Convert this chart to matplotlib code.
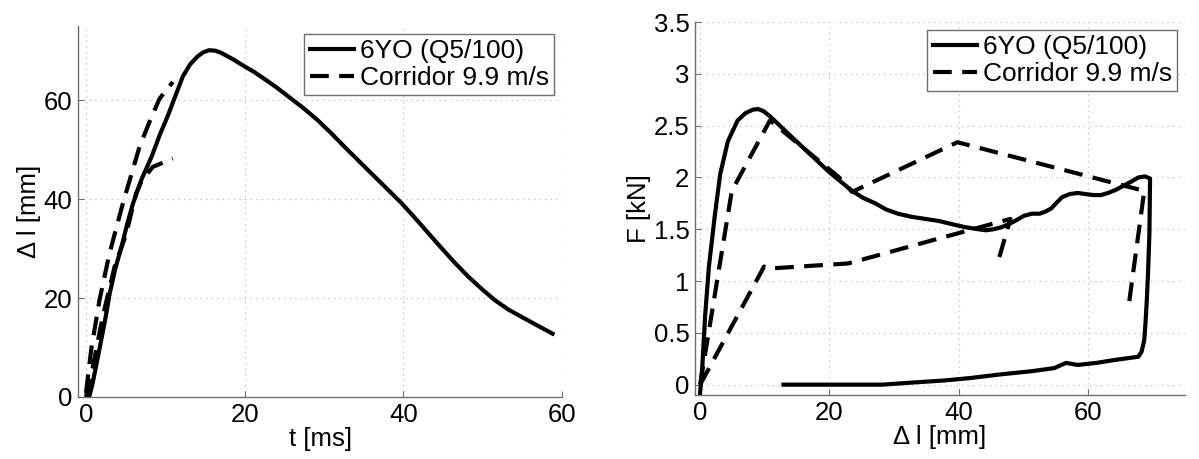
import numpy as np
import matplotlib
matplotlib.use("Agg")
import matplotlib.pyplot as plt
from matplotlib.ticker import FormatStrFormatter

plt.rcParams["font.family"] = ["Liberation Sans", "DejaVu Sans"]

""" left: elongation over time """
t_sim = [0.4, 0.8, 1.3, 1.8, 2.4, 3.0, 3.7, 4.5, 5.2, 5.9, 7.0, 8.3, 9.3, 10.3, 11.3,
         12.2, 13.1, 14.1, 14.8, 15.5, 16.3, 17.0, 18.5, 19.9, 21.1, 22.3, 24.0, 25.7,
         27.4, 29.1, 30.8, 32.5, 34.2, 35.9, 37.8, 39.7, 41.4, 43.1, 44.8, 46.5, 48.2,
         49.9, 51.5, 53.2, 55.0, 56.6, 58.8]
dl_sim = [0.0, 2.5, 6.5, 10.5, 15.5, 21.0, 26.0, 30.5, 35.0, 39.0, 44.0, 48.7, 53.0,
          56.8, 61.0, 64.8, 67.2, 68.9, 69.7, 70.1, 70.0, 69.6, 68.3, 66.9, 65.8, 64.5,
          62.6, 60.5, 58.4, 56.1, 53.5, 50.7, 48.0, 45.3, 42.3, 39.3, 36.3, 33.2, 30.1,
          27.1, 24.3, 21.8, 19.6, 17.7, 16.1, 14.7, 12.8]

t_corr_up = [0.0, 0.65, 1.7, 2.96, 4.64, 6.75, 8.1, 9.27, 10.95]
dl_corr_up = [0.8, 9.5, 19.6, 29.0, 39.1, 50.6, 56.0, 60.3, 63.7]
t_corr_lo = [0.0, 0.86, 2.1, 3.6, 5.07, 6.3, 6.96, 8.4, 10.95]
dl_corr_lo = [0.0, 6.1, 16.2, 26.3, 33.0, 41.1, 43.5, 46.5, 48.2]

""" right: force over elongation """
dl_fd = [0.0, 0.35, 0.77, 1.36, 2.25, 3.1, 4.3, 5.8, 7.0, 8.2, 9.0, 9.8, 10.8, 12.0,
         13.5, 16.4, 20.0, 23.5, 25.3, 27.1, 28.8, 30.6, 32.7, 34.8, 36.9, 38.9, 41.0,
         43.0, 44.2, 45.4, 46.6, 47.8, 49.0, 50.1, 51.3, 52.5, 53.4, 54.3, 55.2, 56.0,
         57.2, 58.4, 59.6, 60.8, 62.0, 63.1, 64.3, 65.5, 66.7, 67.8, 68.8, 69.6, 69.5,
         69.3, 69.1, 68.9, 68.7, 68.3, 67.8, 66.7, 64.3, 61.3, 58.4, 56.6, 54.8, 51.3,
         46.6, 41.8, 37.7, 31.8, 28.2, 12.9]
f_fd = [-0.08, 0.18, 0.66, 1.14, 1.62, 2.03, 2.35, 2.55, 2.62, 2.655, 2.66, 2.64, 2.59,
        2.52, 2.43, 2.26, 2.05, 1.87, 1.80, 1.75, 1.69, 1.65, 1.62, 1.60, 1.58, 1.55,
        1.52, 1.50, 1.49, 1.50, 1.52, 1.55, 1.59, 1.63, 1.65, 1.65, 1.67, 1.70, 1.76,
        1.81, 1.84, 1.85, 1.84, 1.83, 1.83, 1.85, 1.88, 1.92, 1.96, 2.00, 2.01, 1.99,
        1.46, 1.10, 0.82, 0.60, 0.43, 0.32, 0.27, 0.26, 0.24, 0.21, 0.19, 0.21, 0.16,
        0.13, 0.10, 0.064, 0.04, 0.016, 0.0, 0.0]

dl_fcorr_up = [0.0, 4.9, 10.8, 21.5, 23.5, 39.8, 68.7, 66.2]
f_fcorr_up = [0.0, 1.87, 2.55, 2.0, 1.86, 2.34, 1.87, 0.72]
dl_fcorr_lo = [0.0, 9.9, 10.5, 22.9, 48.0, 46.0]
f_fcorr_lo = [0.0, 1.14, 1.12, 1.17, 1.60, 1.17]

font_tick = 18.5
font_lab = 18.5
font_leg = 19
lw = 3.0
dash = (4.5, 2.5)
axcol = "#6e6e6e"

fig = plt.figure(figsize=(11.99, 4.59), dpi=100)
ax1 = fig.add_axes([0.0651, 0.1351, 0.4037, 0.8083])
ax2 = fig.add_axes([0.5796, 0.1394, 0.4087, 0.8126])


def style_axes(ax):
    for s in ["top", "right"]:
        ax.spines[s].set_visible(False)
    for s in ["left", "bottom"]:
        ax.spines[s].set_color(axcol)
        ax.spines[s].set_linewidth(1.0)
    ax.tick_params(direction="in", length=4, width=0.8, color=axcol,
                   labelsize=font_tick, pad=4)
    ax.grid(True, linestyle=(0, (1, 4)), color="#b0b0b0", linewidth=0.8)


ax1.plot(t_sim, dl_sim, "-k", lw=lw, label="6YO (Q5/100)")
ax1.plot(t_corr_up, dl_corr_up, "--k", lw=lw, dashes=dash, label="Corridor 9.9 m/s")
ax1.plot(t_corr_lo, dl_corr_lo, "--k", lw=lw, dashes=dash)
ax1.set_xlim(-1, 60)
ax1.set_ylim(0, 75)
ax1.set_xticks([0, 20, 40, 60])
ax1.set_yticks([0, 20, 40, 60])
ax1.set_xlabel("t [ms]", size=font_lab, labelpad=0)
ax1.set_ylabel("Δ l [mm]", size=font_lab, labelpad=2)
style_axes(ax1)

ax2.plot(dl_fd, f_fd, "-k", lw=lw, label="6YO (Q5/100)")
ax2.plot(dl_fcorr_up, f_fcorr_up, "--k", lw=lw, dashes=dash, label="Corridor 9.9 m/s")
ax2.plot(dl_fcorr_lo, f_fcorr_lo, "--k", lw=lw, dashes=dash)
ax2.set_xlim(-0.8, 75)
ax2.set_ylim(-0.1, 3.5)
ax2.set_xticks([0, 20, 40, 60])
ax2.set_yticks([0, 0.5, 1, 1.5, 2, 2.5, 3, 3.5])
ax2.yaxis.set_major_formatter(FormatStrFormatter("%g"))
ax2.set_xlabel("Δ l [mm]", size=font_lab, labelpad=0)
ax2.set_ylabel("F [kN]", size=font_lab, labelpad=2)
style_axes(ax2)

for ax in (ax1, ax2):
    leg = ax.legend(loc="upper right", fontsize=font_leg, fancybox=False,
                    framealpha=1, edgecolor=axcol, handlelength=1.7,
                    handletextpad=0.2, borderpad=0.2, labelspacing=0.1,
                    borderaxespad=0.3)
    leg.get_frame().set_linewidth(1.0)

fig.savefig("out.png", dpi=100)
